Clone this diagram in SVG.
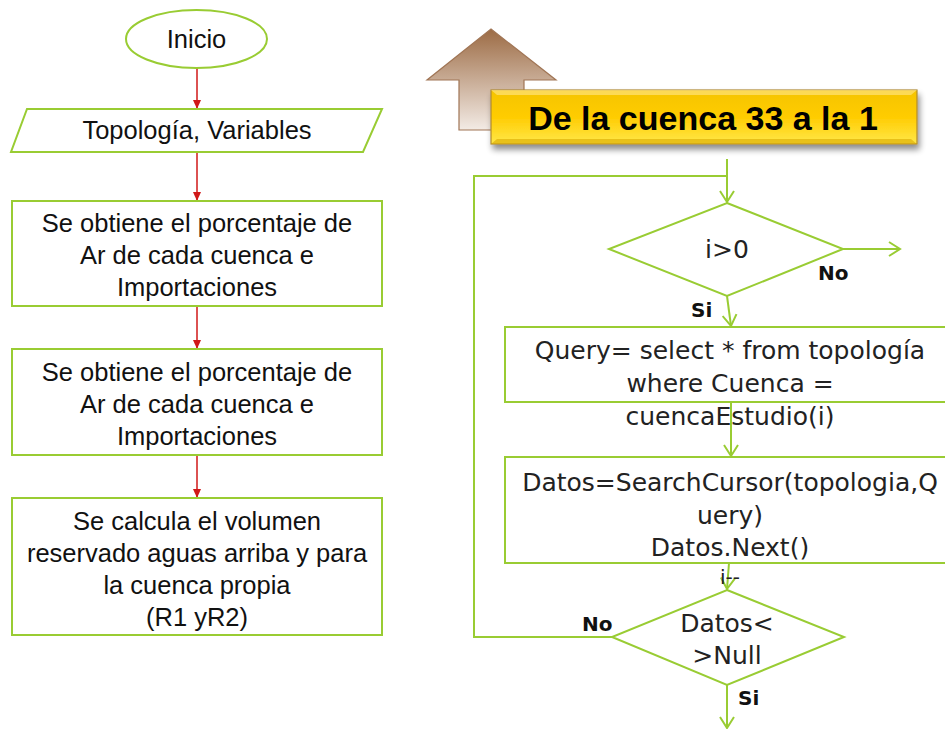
<svg xmlns="http://www.w3.org/2000/svg" width="945" height="729" viewBox="0 0 945 729">
<defs>
<style>
.g{fill:none;stroke:#99cc33;stroke-width:2}
.gw{fill:#ffffff;stroke:#99cc33;stroke-width:2}
.r{fill:none;stroke:#d01818;stroke-width:1.5}
.t{font-family:"Liberation Sans",Arial,sans-serif;font-size:25.5px;fill:#111;text-anchor:middle}
.c{font-family:"DejaVu Sans","Liberation Sans",sans-serif;font-size:25px;fill:#222;text-anchor:middle}
.b{font-family:"DejaVu Sans","Liberation Sans",sans-serif;font-size:20px;font-weight:bold;fill:#111}
</style>
<marker id="ar" markerWidth="10" markerHeight="10" refX="8" refY="5" orient="auto" markerUnits="userSpaceOnUse">
<path d="M0,1 L9,5 L0,9 Z" fill="#d01818"/>
</marker>
<marker id="ag" markerWidth="14" markerHeight="16" refX="12" refY="8" orient="auto" markerUnits="userSpaceOnUse">
<path d="M1,1 L12,8 L1,15" fill="none" stroke="#99cc33" stroke-width="2"/>
</marker>
<linearGradient id="brown" x1="0" y1="0" x2="0" y2="1">
<stop offset="0" stop-color="#9c6b44"/>
<stop offset="1" stop-color="#f3ebe5"/>
</linearGradient>
<linearGradient id="gold" x1="0" y1="0" x2="0" y2="1">
<stop offset="0" stop-color="#f5c400"/>
<stop offset="0.5" stop-color="#ffcc00"/>
<stop offset="1" stop-color="#ffe84a"/>
</linearGradient>
<filter id="sh" x="-10%" y="-20%" width="120%" height="160%">
<feGaussianBlur in="SourceAlpha" stdDeviation="3"/>
<feOffset dx="2" dy="5"/>
<feComponentTransfer><feFuncA type="linear" slope="0.45"/></feComponentTransfer>
<feMerge><feMergeNode/><feMergeNode in="SourceGraphic"/></feMerge>
</filter>
</defs>
<rect width="945" height="729" fill="#ffffff"/>

<g id="connectors">
<line class="r" x1="197" y1="68" x2="197" y2="108" marker-end="url(#ar)"/>
<line class="r" x1="197" y1="152" x2="197" y2="200" marker-end="url(#ar)"/>
<line class="r" x1="197" y1="306" x2="197" y2="348" marker-end="url(#ar)"/>
<line class="r" x1="197" y1="455" x2="197" y2="497" marker-end="url(#ar)"/>
<line class="g" x1="727" y1="159" x2="727" y2="202" marker-end="url(#ag)"/>
<polyline class="g" points="612,637 474,637 474,176 727,176"/>
<line class="g" x1="843" y1="249" x2="900" y2="249" marker-end="url(#ag)"/>
<line class="g" x1="727" y1="296" x2="731" y2="326" marker-end="url(#ag)"/>
<line class="g" x1="731" y1="402" x2="731" y2="456" marker-end="url(#ag)"/>
<line class="g" x1="729" y1="563" x2="727" y2="589" marker-end="url(#ag)"/>
<line class="g" x1="727" y1="685" x2="727" y2="728" marker-end="url(#ag)"/>
</g>

<g id="inicio">
<ellipse class="gw" cx="196.5" cy="39" rx="70.5" ry="29"/>
<text class="t" x="196.5" y="48">Inicio</text>
</g>
<g id="entrada">
<polygon class="gw" points="27,109 382,109 363,152 11,152"/>
<text class="t" x="197" y="139">Topología, Variables</text>
</g>
<g id="proceso1">
<rect class="gw" x="12" y="201" width="370" height="105"/>
<text class="t" x="197" y="232">Se obtiene el porcentaje de</text>
<text class="t" x="197" y="264">Ar de cada cuenca e</text>
<text class="t" x="197" y="296">Importaciones</text>
</g>
<g id="proceso2">
<rect class="gw" x="12" y="349" width="370" height="106"/>
<text class="t" x="197" y="381">Se obtiene el porcentaje de</text>
<text class="t" x="197" y="413">Ar de cada cuenca e</text>
<text class="t" x="197" y="445">Importaciones</text>
</g>
<g id="proceso3">
<rect class="gw" x="12" y="498" width="370" height="137"/>
<text class="t" x="197" y="530">Se calcula el volumen</text>
<text class="t" x="197" y="562">reservado aguas arriba y para</text>
<text class="t" x="197" y="594">la cuenca propia</text>
<text class="t" x="197" y="626">(R1 yR2)</text>
</g>

<g id="flecha-arriba">
<polygon points="491,29 556,80 524,80 524,130 459,130 459,80 427,80" fill="url(#brown)" stroke="#a07555" stroke-width="1.2"/>
</g>
<g id="titulo">
<rect x="491" y="90" width="426" height="54" fill="url(#gold)" stroke="#b08a30" stroke-width="1.2" filter="url(#sh)"/>
<polygon points="491,90 917,90 911,95 497,95" fill="#ffe27a" opacity="0.7"/>
<polygon points="491,144 917,144 911,139 497,139" fill="#d9a800" opacity="0.6"/>
<text x="703" y="130" font-family="Liberation Sans,Arial,sans-serif" font-size="34" font-weight="bold" text-anchor="middle" fill="#000">De la cuenca 33 a la 1</text>
</g>

<g id="decision1">
<polygon class="gw" points="727,203 843,249 727,296 609,249"/>
<text class="c" x="727" y="258">i&gt;0</text>
<text class="b" x="818" y="280">No</text>
<text class="b" x="691" y="317">Si</text>
</g>
<g id="query">
<rect class="gw" x="505" y="327" width="450" height="75"/>
<text class="c" x="730" y="359">Query= select * from topología</text>
<text class="c" x="730" y="392">where Cuenca =</text>
<text class="c" x="730" y="425">cuencaEstudio(i)</text>
</g>
<g id="datos">
<rect class="gw" x="505" y="457" width="450" height="106"/>
<text class="c" x="730" y="491">Datos=SearchCursor(topologia,Q</text>
<text class="c" x="730" y="524">uery)</text>
<text class="c" x="730" y="556">Datos.Next()</text>
<text class="c" x="730" y="584" style="font-size:20px">i--</text>
</g>
<g id="decision2">
<polygon class="gw" points="727,590 844,637 727,685 612,637"/>
<text class="c" x="727" y="632">Datos&lt;</text>
<text class="c" x="727" y="664">&gt;Null</text>
<text class="b" x="582" y="631">No</text>
<text class="b" x="738" y="705">Si</text>
</g>
</svg>
